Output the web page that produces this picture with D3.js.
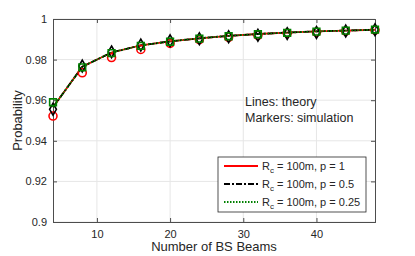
<!DOCTYPE html>
<html>
<head>
<meta charset="utf-8">
<script src="https://cdn.jsdelivr.net/npm/d3@7"></script>
<style>
  body { margin: 0; background: #fff; }
  svg { font-family: "Liberation Sans", Arial, sans-serif; }
</style>
</head>
<body>
<svg id="chart" width="415" height="256"></svg>
<script>
// Data
var beams = [4, 8, 12, 16, 20, 24, 28, 32, 36, 40, 44, 48];

// theory curves (almost identical for all p)
var theoryP1   = [0.9565, 0.9765, 0.9835, 0.987, 0.989, 0.9905, 0.9917, 0.9926, 0.9933, 0.9939, 0.9943, 0.9947];
var theoryP05  = [0.9565, 0.9765, 0.9835, 0.987, 0.989, 0.9905, 0.9917, 0.9926, 0.9933, 0.9939, 0.9943, 0.9947];
var theoryP025 = [0.9565, 0.9765, 0.9835, 0.987, 0.989, 0.9905, 0.9917, 0.9926, 0.9933, 0.9939, 0.9943, 0.9947];

// simulation markers
var simP1   = [0.9522, 0.9735, 0.981, 0.985, 0.988, 0.9898, 0.991, 0.992, 0.993, 0.9935, 0.994, 0.9945];
var simP05  = [0.9555, 0.9768, 0.9838, 0.9872, 0.9893, 0.9903, 0.9913, 0.992, 0.9928, 0.9934, 0.9941, 0.9947];
var simP025 = [0.9590, 0.9762, 0.9832, 0.9868, 0.9888, 0.9903, 0.9915, 0.9925, 0.9932, 0.9938, 0.9943, 0.9948];

var xTicks = [10, 20, 30, 40];
var yTicks = [0.9, 0.92, 0.94, 0.96, 0.98, 1];
var legendLabels = ['100m, p = 1', '100m, p = 0.5', '100m, p = 0.25'];

var margin = {top: 19, right: 40, bottom: 34, left: 53};
var svg = d3.select('#chart');
var width = 415 - margin.left - margin.right,
    height = 256 - margin.top - margin.bottom;

var g = svg.append('g')
  .attr('transform', 'translate(' + margin.left + ',' + margin.top + ')');

var x = d3.scaleLinear().domain([4, 48]).range([0, width]);
var y = d3.scaleLinear().domain([0.9, 1]).range([height, 0]);

var textColor = '#262626';

// Grid
g.selectAll('.xgrid').data(xTicks).enter().append('line')
  .attr('x1', d => x(d)).attr('x2', d => x(d))
  .attr('y1', 0).attr('y2', height)
  .style('stroke', '#e6e6e6').style('stroke-width', 1);
g.selectAll('.ygrid').data(yTicks).enter().append('line')
  .attr('y1', d => y(d)).attr('y2', d => y(d))
  .attr('x1', 0).attr('x2', width)
  .style('stroke', '#e6e6e6').style('stroke-width', 1);

// Axes (ticks inside, like MATLAB)
g.append('g').attr('transform', 'translate(0,' + height + ')')
  .call(d3.axisBottom(x).tickValues(xTicks).tickSize(-4).tickPadding(8).tickFormat(d3.format('d')));
g.append('g')
  .call(d3.axisLeft(y).tickValues(yTicks).tickSize(-4).tickPadding(6).tickFormat(d => d === 1 ? '1' : d === 0.9 ? '0.9' : d3.format('.2f')(d)));
g.append('g')
  .call(d3.axisTop(x).tickValues(xTicks).tickSize(-4).tickFormat(''));
g.append('g').attr('transform', 'translate(' + width + ',0)')
  .call(d3.axisRight(y).tickValues(yTicks).tickSize(-4).tickFormat(''));

g.selectAll('.domain').style('stroke', '#4d4d4d');
g.selectAll('.tick line').style('stroke', '#4d4d4d');
g.selectAll('.tick text').style('font-size', '11px').style('fill', textColor)
  .style('font-family', '"Liberation Sans", Arial, sans-serif');

// Lines
var series = [
  {theory: theoryP1,   sim: simP1,   color: '#ff0000', dash: null,      marker: 'circle'},
  {theory: theoryP05,  sim: simP05,  color: '#000000', dash: '6,2,2,2', marker: 'diamond'},
  {theory: theoryP025, sim: simP025, color: '#008000', dash: '1.5,1.5', marker: 'square'}
];

var line = d3.line().x((d, i) => x(beams[i])).y(d => y(d));

series.forEach(function(s) {
  g.append('path')
    .datum(s.theory)
    .attr('d', line)
    .style('fill', 'none')
    .style('stroke', s.color)
    .style('stroke-width', 1.8)
    .style('stroke-dasharray', s.dash);
});

// Markers
series.forEach(function(s) {
  var symType = s.marker === 'circle' ? d3.symbolCircle :
                s.marker === 'square' ? d3.symbolSquare : d3.symbolDiamond;
  var size = s.marker === 'circle' ? 50 : s.marker === 'square' ? 45 : 40;
  g.selectAll('.m-' + s.marker).data(s.sim).enter().append('path')
    .attr('d', d3.symbol().type(symType).size(size))
    .attr('transform', (d, i) => 'translate(' + x(beams[i]) + ',' + y(d) + ')')
    .style('fill', 'none')
    .style('stroke', s.color)
    .style('stroke-width', 1.6);
});

// Axis labels
svg.append('text')
  .attr('x', margin.left + width / 2).attr('y', 251)
  .attr('text-anchor', 'middle')
  .style('font-size', '13px').style('fill', textColor)
  .text('Number of BS Beams');
svg.append('text')
  .attr('transform', 'translate(22,' + (margin.top + height / 2) + ') rotate(-90)')
  .attr('text-anchor', 'middle')
  .style('font-size', '13px').style('fill', textColor)
  .text('Probability');

// Annotation
svg.append('text').attr('x', 245).attr('y', 106)
  .style('font-size', '12.5px').style('fill', textColor).text('Lines: theory');
svg.append('text').attr('x', 245).attr('y', 122)
  .style('font-size', '12.5px').style('fill', textColor).text('Markers: simulation');

// Legend
var lg = svg.append('g');
lg.append('rect')
  .attr('x', 218).attr('y', 157).attr('width', 148).attr('height', 55)
  .style('fill', '#fff').style('stroke', '#262626').style('stroke-width', 0.8);

series.forEach(function(s, i) {
  var ly = 166 + i * 18;
  lg.append('line')
    .attr('x1', 224).attr('x2', 258).attr('y1', ly).attr('y2', ly)
    .style('stroke', s.color).style('stroke-width', 1.8)
    .style('stroke-dasharray', s.dash);
  var t = lg.append('text').attr('x', 262).attr('y', ly + 4)
    .style('font-size', '11px').style('fill', textColor);
  t.append('tspan').text('R');
  t.append('tspan').attr('dy', 3).style('font-size', '8px').text('c');
  t.append('tspan').attr('dy', -3).text(' = ' + legendLabels[i]);
});
</script>
</body>
</html>
